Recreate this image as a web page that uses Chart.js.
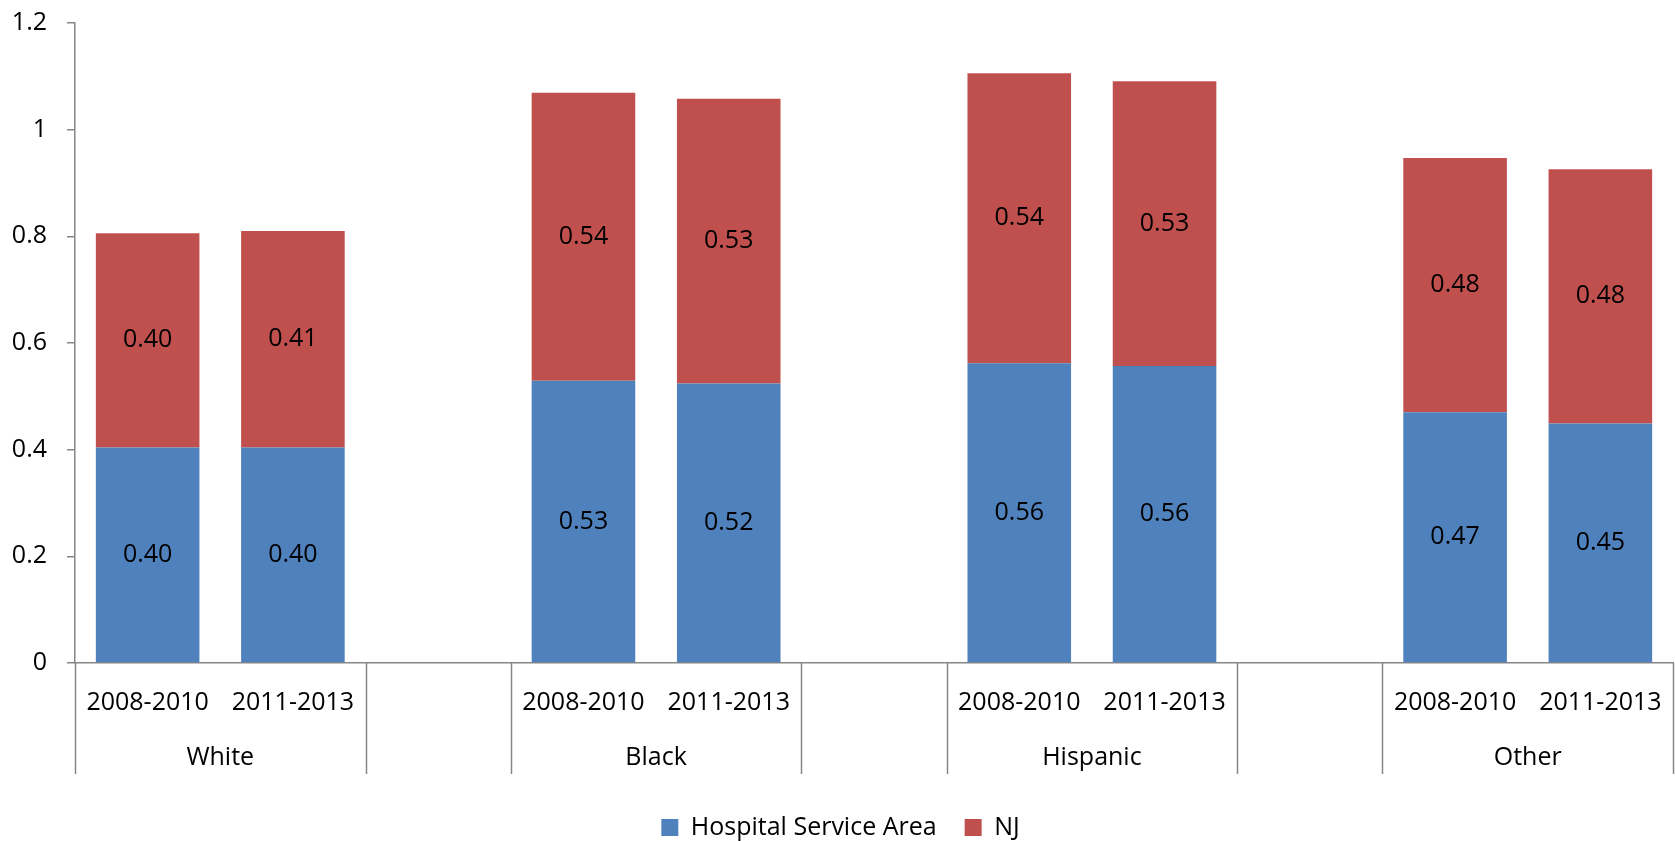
<!DOCTYPE html>
<html>
<head>
<meta charset="utf-8">
<script src="https://cdn.jsdelivr.net/npm/chart.js@4.4.1/dist/chart.umd.min.js"></script>
<style>
  html, body { margin: 0; padding: 0; background: #fff; overflow: hidden; }
</style>
</head>
<body>
<canvas id="chart" width="1675" height="841"></canvas>
<script>
const groups = ['White', 'Black', 'Hispanic', 'Other'];
const periods = ['2008-2010', '2011-2013'];
// two values per group, in period order
const hsaValues = [0.404, 0.404, 0.529, 0.524, 0.562, 0.557, 0.470, 0.449];
const njValues  = [0.402, 0.406, 0.540, 0.534, 0.544, 0.534, 0.477, 0.477];

const FONT = "'Open Sans', sans-serif";
const AXIS_GRAY = '#868686';

// build slots: 2 bars per group, one empty slot between groups
const labels = [];
const slotGroup = [];
const hsaData = [];
const njData = [];
groups.forEach(function(g, gi) {
    if (gi > 0) {
        labels.push('');
        slotGroup.push('gap' + gi);
        hsaData.push(null);
        njData.push(null);
    }
    periods.forEach(function(p, pi) {
        labels.push(p);
        slotGroup.push(g);
        hsaData.push(hsaValues[gi * periods.length + pi]);
        njData.push(njValues[gi * periods.length + pi]);
    });
});

// value labels in the middle of each segment
const segmentLabels = {
    id: 'segmentLabels',
    afterDatasetsDraw(chart) {
        const ctx = chart.ctx;
        ctx.save();
        ctx.font = '25px ' + FONT;
        ctx.fillStyle = '#000';
        ctx.textAlign = 'center';
        ctx.textBaseline = 'middle';
        chart.data.datasets.forEach(function(ds, di) {
            chart.getDatasetMeta(di).data.forEach(function(bar, i) {
                const v = ds.data[i];
                if (v === null || v === undefined) return;
                ctx.fillText(v.toFixed(2), bar.x, (bar.y + bar.base) / 2);
            });
        });
        ctx.restore();
    }
};

// second level of the category axis: group dividers and names
const groupAxis = {
    id: 'groupAxis',
    afterDraw(chart) {
        const ctx = chart.ctx;
        const xs = chart.scales.x;
        const n = labels.length;
        const slot = (xs.right - xs.left) / n;
        const top = xs.top;
        const bottom = top + 111;

        ctx.save();
        ctx.strokeStyle = AXIS_GRAY;
        ctx.lineWidth = 1.5;
        for (let i = 0; i <= n; i++) {
            if (i > 0 && i < n && slotGroup[i] === slotGroup[i - 1]) continue;
            const x = Math.round(xs.left + i * slot) + 0.5;
            ctx.beginPath();
            ctx.moveTo(x, top);
            ctx.lineTo(x, bottom);
            ctx.stroke();
        }

        ctx.font = '25px ' + FONT;
        ctx.fillStyle = '#000';
        ctx.textAlign = 'center';
        ctx.textBaseline = 'middle';
        groups.forEach(function(g) {
            const first = slotGroup.indexOf(g);
            const last = slotGroup.lastIndexOf(g);
            const cx = (xs.getPixelForValue(first) + xs.getPixelForValue(last)) / 2;
            ctx.fillText(g, cx, top + 95);
        });
        ctx.restore();
    }
};

new Chart(document.getElementById('chart').getContext('2d'), {
    type: 'bar',
    data: {
        labels: labels,
        datasets: [{
            label: 'Hospital Service Area',
            data: hsaData,
            backgroundColor: '#4F81BD',
            borderWidth: 0,
            barPercentage: 0.713,
            categoryPercentage: 1
        }, {
            label: 'NJ',
            data: njData,
            backgroundColor: '#C0504D',
            borderWidth: 0,
            barPercentage: 0.713,
            categoryPercentage: 1
        }]
    },
    options: {
        responsive: false,
        animation: false,
        devicePixelRatio: 1,
        layout: { padding: { top: 23, left: 8, right: 2, bottom: -9 } },
        plugins: {
            title: { display: false },
            tooltip: { enabled: false },
            legend: {
                position: 'bottom',
                labels: {
                    boxWidth: 17,
                    boxHeight: 17,
                    padding: 28,
                    color: '#000',
                    font: { family: FONT, size: 25 }
                }
            }
        },
        scales: {
            x: {
                stacked: true,
                offset: true,
                grid: { drawOnChartArea: false, drawTicks: false },
                border: { display: true, color: AXIS_GRAY, width: 1.5 },
                ticks: {
                    color: '#000',
                    font: { family: FONT, size: 25 },
                    padding: 25,
                    autoSkip: false,
                    maxRotation: 0
                },
                afterFit: function(s) {
                    s.height = 124;
                    s.paddingLeft = 0;
                    s.paddingRight = 0;
                }
            },
            y: {
                stacked: true,
                min: 0,
                max: 1.2,
                grid: {
                    drawOnChartArea: false,
                    drawTicks: true,
                    tickLength: 8,
                    color: AXIS_GRAY,
                    lineWidth: 1.5
                },
                border: { color: AXIS_GRAY, width: 1.5 },
                ticks: {
                    stepSize: 0.2,
                    padding: 20,
                    color: '#000',
                    font: { family: FONT, size: 25 },
                    callback: function(v) { return String(Number(v.toFixed(1))); }
                },
                afterFit: function(s) {
                    s.width = 67;
                    s.paddingTop = 0;
                    s.paddingBottom = 0;
                }
            }
        }
    },
    plugins: [segmentLabels, groupAxis]
});
</script>
</body>
</html>
